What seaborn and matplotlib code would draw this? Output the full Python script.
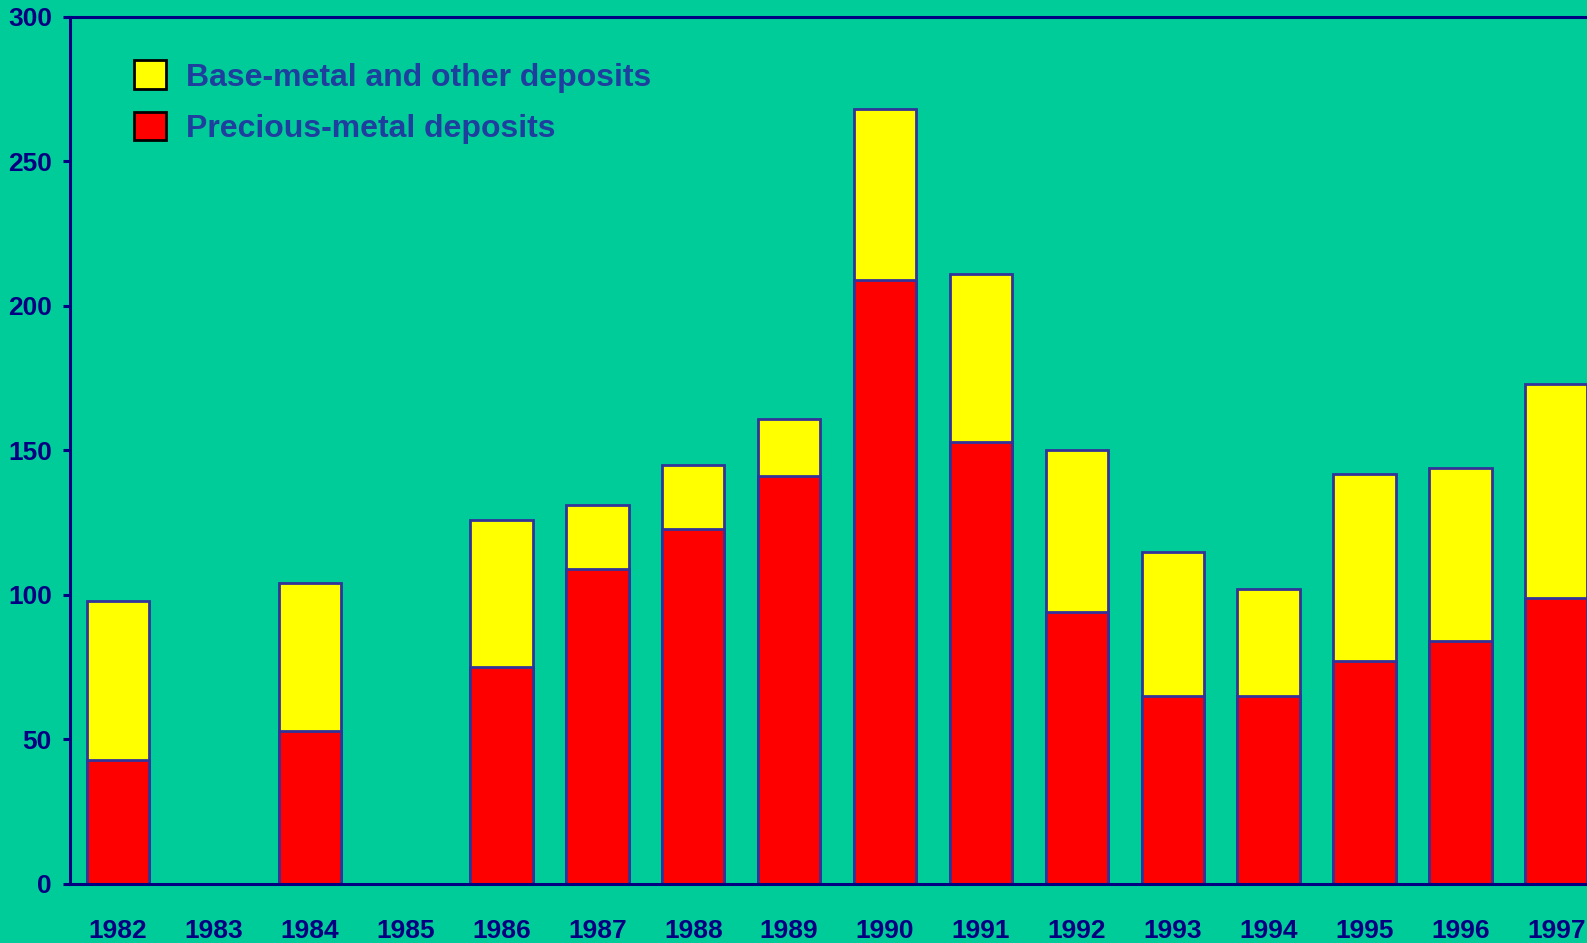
import matplotlib
matplotlib.use('Agg')
import matplotlib.pyplot as plt
import matplotlib.patches as mpatches
import seaborn as sns
import pandas as pd

# values
years = ['1982', '1983', '1984', '1985', '1986', '1987', '1988', '1989',
         '1990', '1991', '1992', '1993', '1994', '1995', '1996', '1997']
precious = [43, 0, 53, 0, 75, 109, 123, 141, 209, 153, 94, 65, 65, 77, 84, 99]
base_other = [55, 0, 51, 0, 51, 22, 22, 20, 59, 58, 56, 50, 37, 65, 60, 74]

totals = [p + b for p, b in zip(precious, base_other)]
df = pd.DataFrame({'year': years, 'precious': precious, 'total': totals})

bg = '#00CC99'
navy = '#000080'
edge = '#333399'
fam = ['Liberation Sans Narrow', 'Liberation Sans', 'DejaVu Sans']

sns.set_style('ticks')
plt.rcParams['font.family'] = fam

fig = plt.figure(figsize=(15.87, 9.43), dpi=100)
fig.patch.set_facecolor(bg)
ax = fig.add_axes([0.0441, 0.0626, 0.9559, 0.9194])
ax.set_facecolor(bg)

# stacked: draw totals in yellow, then precious-metal part in red on top
sns.barplot(data=df, x='year', y='total', order=years, color='#FFFF00',
            saturation=1, width=0.65, edgecolor=edge, linewidth=2, ax=ax)
sns.barplot(data=df, x='year', y='precious', order=years, color='#FF0000',
            saturation=1, width=0.65, edgecolor=edge, linewidth=2, ax=ax)

ax.set_xlim(-0.5, 15.32)
ax.set_ylim(0, 300)
ax.set_yticks(range(0, 301, 50))
ax.set_xlabel('')
ax.set_ylabel('')

for side in ['left', 'bottom', 'top', 'right']:
    ax.spines[side].set_color(navy)
    ax.spines[side].set_linewidth(2.2)
ax.spines['right'].set_visible(False)

ax.tick_params(axis='y', colors=navy, length=5, width=2.2, pad=8,
               labelsize=19)
ax.tick_params(axis='x', colors=navy, length=0, pad=25, labelsize=19)
for lab in ax.get_xticklabels() + ax.get_yticklabels():
    lab.set_fontweight('bold')
    lab.set_color(navy)

handles = [mpatches.Patch(facecolor='#FFFF00', edgecolor='black', linewidth=2),
           mpatches.Patch(facecolor='#FF0000', edgecolor='black', linewidth=2)]
leg = ax.legend(handles, ['Base-metal and other deposits', 'Precious-metal deposits'],
                loc='upper left', bbox_to_anchor=(0.0845, 0.936),
                bbox_transform=fig.transFigure, frameon=False,
                prop={'family': fam, 'weight': 'bold', 'size': 23},
                handlelength=1.0, handleheight=1.0, labelspacing=0.6,
                handletextpad=0.62, borderaxespad=0, borderpad=0)
for t in leg.get_texts():
    t.set_color('#1F3F9F')

fig.savefig('out.png', dpi=100, facecolor=bg)
